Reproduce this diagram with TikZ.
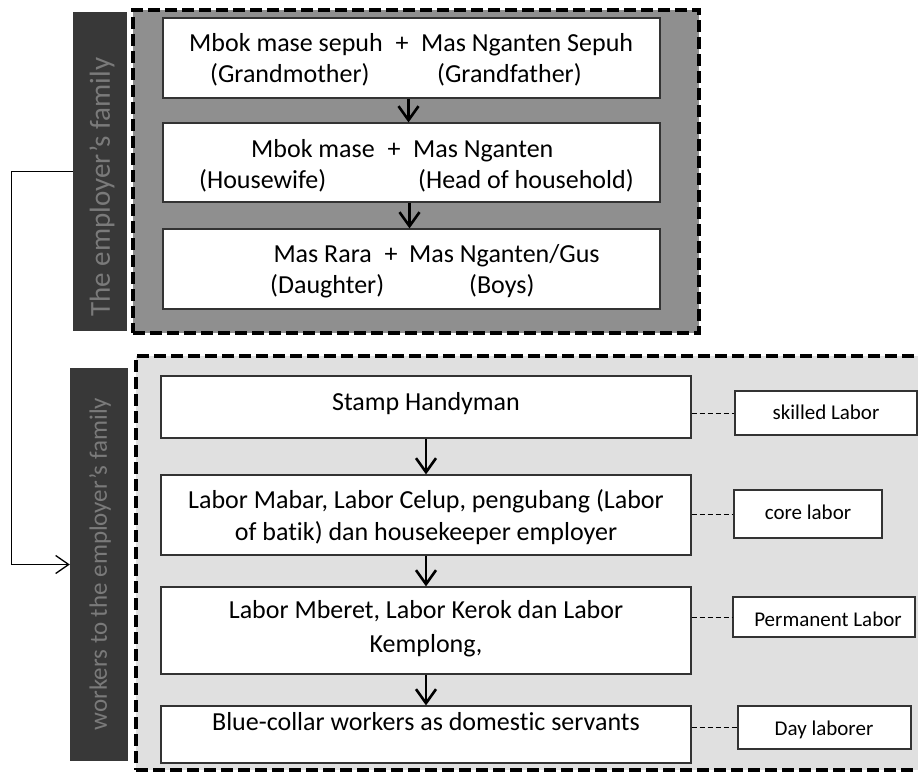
\documentclass[tikz,border=0pt]{standalone}
\usepackage{fontspec}
\setmainfont{Carlito}[Ligatures=NoCommon]
\usetikzlibrary{arrows.meta}
\definecolor{topgray}{gray}{0.56}
\definecolor{botgray}{gray}{0.88}
\definecolor{sidedark}{gray}{0.22}
\definecolor{sidetext}{gray}{0.48}
\begin{document}
\begin{tikzpicture}[x=1pt,y=-1pt,
  frame/.style={draw=black, line width=3.5pt, dash pattern=on 12pt off 5pt, inner sep=0pt},
  sidebar/.style={fill=sidedark, draw=none, inner sep=0pt},
  sidelabel/.style={rotate=90, text=sidetext, inner sep=0pt},
  whitebox/.style={draw=black!80, line width=1.2pt, fill=white, inner sep=0pt},
  txt/.style={anchor=base, inner sep=0pt, font=\fontsize{26}{31}\selectfont},
  txtw/.style={anchor=base west, inner sep=0pt, font=\fontsize{26}{31}\selectfont},
  txte/.style={anchor=base east, inner sep=0pt, font=\fontsize{26}{31}\selectfont},
  lbltxt/.style={anchor=base, inner sep=0pt, font=\fontsize{21}{25}\selectfont},
  vflow/.style={line width=2.6pt, -{Straight Barb[length=14pt,width=20pt]}},
  link/.style={line width=1pt, dash pattern=on 5pt off 3pt},
  conn/.style={line width=1.3pt, -{Straight Barb[length=13pt,width=18pt]}}]
\useasboundingbox (0,0) rectangle (918,776);
\fill[white] (0,0) rectangle (918,776);

% ---------- employer's family ----------
\node[frame, fill=topgray, minimum width=566pt, minimum height=323pt] (topframe) at (416,171.5) {};
\node[sidebar, minimum width=54pt, minimum height=319pt] (topside) at (100,171.5) {};
\node[sidelabel, font=\fontsize{29}{34}\selectfont] (topsidetxt) at (102,187) {The employer's family};

\node[whitebox, minimum width=497pt, minimum height=80pt] (g1) at (411.5,58) {};
\node[whitebox, minimum width=497pt, minimum height=79pt] (g2) at (411.5,162.5) {};
\node[whitebox, minimum width=497pt, minimum height=80pt] (g3) at (411.5,269) {};

\node[txte] (g1a) at (383,52) {Mbok mase sepuh};
\node[txt]  (g1p) at (402,52) {+};
\node[txtw] (g1b) at (421,52) {Mas Nganten Sepuh};
\node[txtw] (g1c) at (210,82) {(Grandmother)};
\node[txtw] (g1d) at (437,82) {(Grandfather)};

\node[txte] (g2a) at (375,157) {Mbok mase};
\node[txt]  (g2p) at (394,157) {+};
\node[txtw] (g2b) at (413,157) {Mas Nganten};
\node[txtw] (g2c) at (199,188) {(Housewife)};
\node[txtw] (g2d) at (418,188) {(Head of household)};

\node[txte] (g3a) at (372,262) {Mas Rara};
\node[txt]  (g3p) at (391,262) {+};
\node[txtw] (g3b) at (409,262) {Mas Nganten/Gus};
\node[txtw] (g3c) at (270,293) {(Daughter)};
\node[txtw] (g3d) at (469,293) {(Boys)};

\draw[vflow] ([xshift=-3pt]g1.south) -- ([xshift=-3pt]g2.north);
\draw[vflow] ([xshift=-2pt]g2.south) -- ([xshift=-2pt]g3.north);

% ---------- workers ----------
\node[frame, fill=botgray, minimum width=794pt, minimum height=414pt] (botframe) at (533,563) {};
\node[sidebar, minimum width=58pt, minimum height=393pt] (botside) at (99,564.5) {};
\node[sidelabel, font=\fontsize{25}{30}\selectfont] (botsidetxt) at (100,564) {workers to the employer's family};

\node[whitebox, minimum width=530pt, minimum height=62pt] (w1) at (426,407) {};
\node[whitebox, minimum width=530pt, minimum height=80pt] (w2) at (426,515) {};
\node[whitebox, minimum width=530pt, minimum height=87pt] (w3) at (426,630.5) {};
\node[whitebox, minimum width=530pt, minimum height=57pt] (w4) at (426,734.5) {};

\node[txt] (w1t) at (426,410) {Stamp Handyman};
\node[txt] (w2t) at (426,508) {Labor Mabar, Labor Celup, pengubang (Labor};
\node[txt] (w2u) at (426,540) {of batik) dan housekeeper employer};
\node[txt] (w3t) at (426,618) {Labor Mberet, Labor Kerok dan Labor};
\node[txt] (w3u) at (426,652) {Kemplong,};
\node[txt] (w4t) at (426,730) {Blue-collar workers as domestic servants};

\node[whitebox, minimum width=182pt, minimum height=44pt] (l1) at (826,413) {};
\node[whitebox, minimum width=148pt, minimum height=48pt] (l2) at (808,514) {};
\node[whitebox, minimum width=182pt, minimum height=40pt] (l3) at (824,617) {};
\node[whitebox, minimum width=173pt, minimum height=43pt] (l4) at (824.5,727.5) {};

\node[lbltxt] (l1t) at (826,419) {skilled Labor};
\node[lbltxt] (l2t) at (808,519) {core labor};
\node[lbltxt] (l3t) at (828,626) {Permanent Labor};
\node[lbltxt] (l4t) at (824,735) {Day laborer};

\draw[link] (w1.east |- l1.west) -- (l1.west);
\draw[link] (w2.east |- l2.west) -- (l2.west);
\draw[link] (w3.east |- l3.west) -- (l3.west);
\draw[link] (w4.east |- l4.west) -- (l4.west);

\draw[vflow] (w1.south) -- (w2.north);
\draw[vflow] (w2.south) -- (w3.north);
\draw[vflow] (w3.south) -- (w4.north);

% ---------- connector ----------
\draw[conn] (topside.west) -- ++(-61,0) |- (botside.west);
\end{tikzpicture}
\end{document}
